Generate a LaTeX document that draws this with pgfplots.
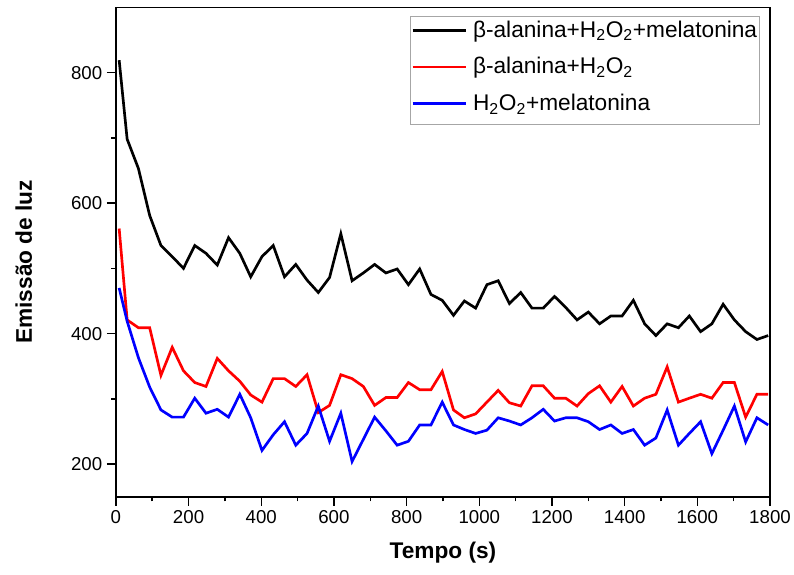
\documentclass[border=0pt]{standalone}
\usepackage{fontspec}
\setmainfont{Liberation Sans}
\usepackage{pgfplots}
\pgfplotsset{compat=1.18}
\usepackage{pgfplotstable}

\pgfplotstableread{
x k r b
9 819 561 470
31 698 421 419
62 653 409 363
93 581 409 318
124 535 336 283
155 518 379 272
186 500 343 272
217 535 325 301
248 523 319 278
279 505 362 284
310 547 343 272
341 523 327 307
371 487 306 271
402 518 295 221
433 535 331 245
464 487 331 265
495 506 319 229
526 482 337 247
557 463 279 289
588 486 290 235
619 553 337 278
650 481 331 204
681 493 319 238
712 506 290 272
743 493 302 251
774 499 302 229
805 475 325 235
836 499 314 260
867 460 314 260
898 451 342 295
929 428 283 260
959 450 271 253
990 439 277 247
1021 475 295 252
1052 481 313 271
1083 446 294 266
1114 463 289 260
1145 439 320 271
1176 439 320 284
1207 457 301 266
1238 440 301 271
1269 421 289 271
1300 433 308 265
1331 415 320 253
1362 427 295 260
1393 427 319 247
1424 451 289 253
1455 415 301 229
1486 397 307 240
1517 415 349 283
1548 409 295 229
1578 427 301 247
1609 403 307 265
1640 415 301 216
1671 445 325 252
1702 421 325 289
1733 403 272 234
1764 391 307 271
1795 397 307 260
}\datatable

\begin{document}
\begin{tikzpicture}
\begin{axis}[name=ax,
  scale only axis, width=490.5pt, height=367pt,
  xmin=0, xmax=1800, ymin=150, ymax=900,
  xtick={0,200,...,1800}, ytick={200,400,600,800},
  minor x tick num=1, minor y tick num=1,
  tick align=outside, tick pos=left,
  major tick length=6.75pt, minor tick length=3.4pt,
  every tick/.style={black, line width=1.1pt},
  axis line style={line width=1.2pt},
  tick label style={font=\fontsize{14}{16}\selectfont},
  /pgf/number format/assume math mode=true,
  /pgf/number format/1000 sep={},
  xlabel={Tempo (s)}, ylabel={Emissão de luz},
  label style={font=\fontsize{17}{20}\selectfont\bfseries},
  xlabel style={at={(axis description cs:0.5,-0.115)}, anchor=center},
  ylabel style={at={(axis description cs:-0.1407,0.48)}, anchor=center},
  legend style={at={(axis description cs:0.985,0.982)}, anchor=north east,
    draw=gray!70, line width=0.6pt, inner xsep=1pt, inner ysep=1pt,
    font=\fontsize{17}{20}\selectfont, row sep=3.5pt, column sep=3.25pt,
    nodes={inner xsep=1pt, inner ysep=1pt, text height=13.5pt, text depth=8.5pt},
    cells={anchor=west}},
  legend image code/.code={\draw[#1] (0pt,0.5ex) -- (40pt,0.5ex);},
]
\addplot[black, line width=2pt] table[x=x, y=k]{\datatable};
\addlegendentry{β-alanina+H\textsubscript{2}O\textsubscript{2}+melatonina}
\addplot[red, line width=2pt] table[x=x, y=r]{\datatable};
\addlegendentry{β-alanina+H\textsubscript{2}O\textsubscript{2}}
\addplot[blue, line width=2pt] table[x=x, y=b]{\datatable};
\addlegendentry{H\textsubscript{2}O\textsubscript{2}+melatonina}
\end{axis}
\pgfresetboundingbox
\path ([shift={(-86.9pt,-58pt)}]ax.south west) rectangle ([shift={(18pt,5.5pt)}]ax.north east);
\end{tikzpicture}
\end{document}
